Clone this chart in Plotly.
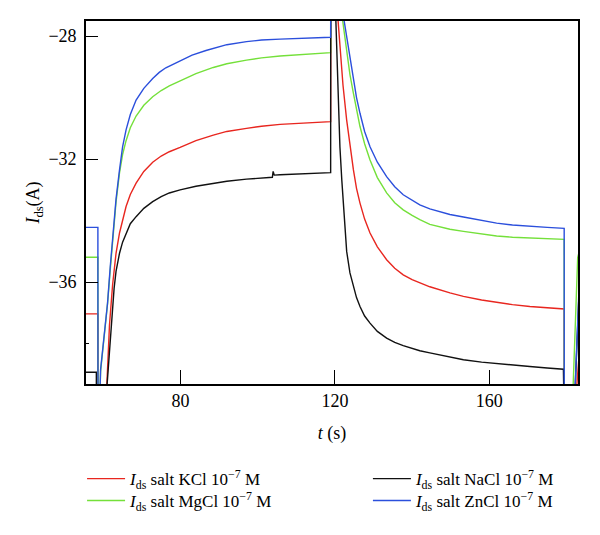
import plotly.graph_objects as go

# ---- data (time in s, current Ids) ----
t_kcl = [55.5, 58.6, 58.62, 60.6, 60.9, 61.6, 62.4, 63.3, 64.2, 65.0, 65.9, 67.0, 68.5, 70.5,
         72.8, 75.0, 77.1, 79.9, 84.0, 88.5, 92.0, 97.1, 101.0, 105.8, 112.0, 118.9, 118.92,
         120.4, 120.7, 121.3, 122.1, 123.05, 123.9, 124.8, 125.6, 126.5, 127.7, 129.1, 131.0,
         133.4, 135.5, 137.7, 140.0, 142.0, 144.6, 149.8, 153.3, 158.0, 161.9, 166.0, 170.5,
         175.0, 179.4, 179.42, 182.0, 183.3]
i_kcl = [-37.03, -37.03, -40.5, -40.5, -39.4, -37.4, -36.1, -35.06, -34.4, -33.95, -33.54,
         -33.15, -32.78, -32.4, -32.1, -31.9, -31.76, -31.62, -31.4, -31.22, -31.1, -31.0,
         -30.93, -30.87, -30.82, -30.78, -27.0, -27.0, -27.3, -28.4, -29.6, -30.73, -31.6,
         -32.35, -32.95, -33.43, -33.95, -34.4, -34.85, -35.27, -35.55, -35.76, -35.92, -36.03,
         -36.15, -36.35, -36.46, -36.58, -36.66, -36.73, -36.79, -36.84, -36.87, -40.5, -40.5,
         -38.3]

t_mgcl = [55.5, 58.6, 58.62, 59.0, 59.3, 60.2, 61.1, 61.8, 62.4, 63.3, 64.2, 65.0, 65.9, 67.0,
          68.5, 70.5, 72.8, 75.0, 77.1, 79.9, 84.0, 88.5, 92.0, 97.1, 101.0, 105.8, 112.0, 118.9,
          118.92, 121.5, 121.8, 122.4, 123.05, 123.9, 124.8, 125.6, 126.5, 127.7, 129.1, 131.0,
          133.4, 135.5, 137.7, 140.0, 142.0, 144.6, 149.8, 153.3, 158.0, 161.9, 166.0, 170.5,
          175.0, 179.4, 179.42, 181.4, 182.9, 183.5]
i_mgcl = [-35.19, -35.19, -40.5, -40.2, -38.9, -37.8, -36.7, -35.6, -34.6, -33.4, -32.45, -31.85,
          -31.4, -30.98, -30.6, -30.25, -29.97, -29.77, -29.62, -29.45, -29.22, -29.02, -28.9,
          -28.78, -28.71, -28.65, -28.59, -28.54, -27.0, -27.0, -27.3, -27.9, -28.56, -29.25,
          -29.86, -30.43, -30.94, -31.5, -32.03, -32.6, -33.1, -33.42, -33.65, -33.83, -33.97,
          -34.12, -34.28, -34.35, -34.44, -34.5, -34.54, -34.57, -34.59, -34.61, -40.5, -40.5,
          -35.2, -34.9]

t_nacl = [55.5, 58.2, 58.22, 60.6, 61.0, 61.6, 62.2, 62.8, 63.3, 64.2, 65.0, 65.9, 67.0, 68.5,
          70.5, 72.8, 75.0, 77.1, 79.9, 84.0, 88.5, 92.0, 97.1, 103.8, 104.0, 104.3, 105.8,
          112.0, 118.9, 118.92, 120.0, 120.2, 120.7, 121.3, 121.8, 122.2, 122.6, 123.05, 123.9,
          124.8, 125.6, 126.5, 127.7, 129.1, 131.0, 133.4, 135.5, 137.7, 140.0, 142.0, 144.6,
          149.8, 153.3, 158.0, 161.9, 166.0, 170.5, 175.0, 179.2, 179.42, 181.9, 183.2]
i_nacl = [-38.93, -38.93, -40.5, -40.5, -39.3, -38.2, -37.1, -36.2, -35.65, -35.06, -34.7, -34.4,
          -34.1, -33.87, -33.6, -33.38, -33.22, -33.1, -33.0, -32.88, -32.78, -32.72, -32.65,
          -32.59, -32.4, -32.52, -32.51, -32.48, -32.44, -27.0, -27.0, -27.3, -29.3, -31.6,
          -32.7, -33.43, -34.3, -35.0, -35.7, -36.14, -36.5, -36.79, -37.1, -37.33, -37.6,
          -37.82, -37.96, -38.06, -38.15, -38.23, -38.3, -38.42, -38.52, -38.6, -38.65, -38.7,
          -38.74, -38.79, -38.83, -40.5, -40.5, -36.5]

t_zncl = [55.5, 58.6, 58.62, 59.0, 59.3, 60.2, 61.1, 61.8, 62.4, 63.3, 64.2, 65.0, 65.9, 67.0,
          68.5, 70.5, 72.8, 74.5, 76.2, 79.9, 83.0, 86.6, 88.5, 92.0, 97.1, 101.0, 105.8, 112.0,
          118.9, 118.92, 121.9, 122.0, 122.5, 123.05, 123.9, 124.8, 125.6, 126.5, 127.7, 129.1,
          131.0, 133.4, 135.5, 137.7, 140.0, 142.0, 144.6, 149.8, 153.3, 158.0, 161.9, 166.0,
          170.5, 175.0, 179.4, 179.42, 181.9, 183.3]
i_zncl = [-34.22, -34.22, -40.5, -40.2, -38.84, -37.7, -36.68, -35.5, -34.52, -33.3, -32.35,
          -31.6, -31.05, -30.55, -30.08, -29.7, -29.38, -29.18, -29.03, -28.8, -28.62, -28.47,
          -28.40, -28.28, -28.18, -28.13, -28.10, -28.07, -28.04, -27.0, -27.0, -27.2, -27.6,
          -28.02, -28.75, -29.43, -30.0, -30.51, -31.1, -31.6, -32.1, -32.57, -32.9, -33.16,
          -33.35, -33.49, -33.62, -33.8, -33.88, -34.0, -34.08, -34.14, -34.19, -34.22, -34.25,
          -40.5, -40.5, -36.0]

names = {
    "kcl": "<i>I</i><sub>ds</sub> salt KCl 10<sup>−7</sup> M",
    "mgcl": "<i>I</i><sub>ds</sub> salt MgCl 10<sup>−7</sup> M",
    "nacl": "<i>I</i><sub>ds</sub> salt NaCl 10<sup>−7</sup> M",
    "zncl": "<i>I</i><sub>ds</sub> salt ZnCl 10<sup>−7</sup> M",
}

x_ticks = [80, 120, 160]
y_ticks = [-28, -32, -36]

RED = "#e8261f"
GREEN = "#74e03a"
BLACK = "#111111"
BLUE = "#2b4fdc"

fig = go.Figure()
fig.add_trace(go.Scatter(x=t_kcl, y=i_kcl, mode="lines", name=names["kcl"],
                         line=dict(color=RED, width=1.4), legend="legend"))
fig.add_trace(go.Scatter(x=t_mgcl, y=i_mgcl, mode="lines", name=names["mgcl"],
                         line=dict(color=GREEN, width=1.4), legend="legend2"))
fig.add_trace(go.Scatter(x=t_nacl, y=i_nacl, mode="lines", name=names["nacl"],
                         line=dict(color=BLACK, width=1.4), legend="legend3"))
fig.add_trace(go.Scatter(x=t_zncl, y=i_zncl, mode="lines", name=names["zncl"],
                         line=dict(color=BLUE, width=1.4), legend="legend4"))

leg_common = dict(yanchor="middle", xanchor="left", bgcolor="rgba(0,0,0,0)",
                  font=dict(family="Liberation Serif", size=17, color="black"),
                  itemwidth=38, tracegroupgap=0)

row1 = -0.262
row2 = -0.322
col1 = -0.008
col2 = 0.573

fig.update_layout(
    width=592, height=527,
    margin=dict(l=78, r=22, t=13, b=151),
    plot_bgcolor="white", paper_bgcolor="white",
    font=dict(family="Liberation Serif", size=18, color="black"),
    showlegend=True,
    legend=dict(x=col1, y=row1, **leg_common),
    legend2=dict(x=col1, y=row2, **leg_common),
    legend3=dict(x=col2, y=row1, **leg_common),
    legend4=dict(x=col2, y=row2, **leg_common),
)

fig.update_xaxes(
    range=[55.52, 182.98], tickmode="array", tickvals=x_ticks,
    ticks="inside", ticklen=14, tickwidth=1.3, tickcolor="black",
    showline=True, linecolor="black", linewidth=1.6, mirror=True,
    showgrid=False, zeroline=False,
    title=dict(text="<i>t</i> (s)", standoff=16, font=dict(size=18)),
)
fig.update_yaxes(
    range=[-39.31, -27.51], tickmode="array", tickvals=y_ticks,
    ticks="inside", ticklen=12, tickwidth=1.3, tickcolor="black",
    minor=dict(tickmode="array", tickvals=[-38], ticks="inside", ticklen=3,
               tickwidth=1.3, tickcolor="black"),
    showline=True, linecolor="black", linewidth=1.6, mirror=True,
    showgrid=False, zeroline=False, ticklabelstandoff=4,
    title=dict(text="<i>I</i><sub>ds</sub>(A)", standoff=4, font=dict(size=18)),
)

fig.write_html("out.html")
